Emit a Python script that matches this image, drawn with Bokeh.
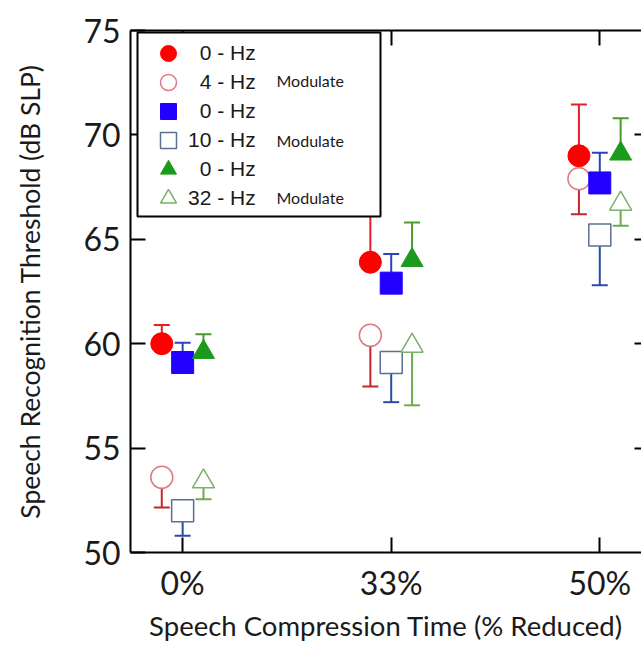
from bokeh.plotting import figure
from bokeh.models import (ColumnDataSource, Range1d, LinearAxis, FixedTicker, Whisker,
                          TeeHead, Legend, LegendItem, Label, BoxAnnotation)
from bokeh.transform import dodge
from bokeh.embed import file_html
from bokeh.resources import INLINE

# ---------------- data ----------------
categories = ["0%", "33%", "50%"]
y_ticks = [50, 55, 60, 65, 70, 75]

red_0hz = [60.0, 63.9, 69.0]
red_0hz_err_up = [0.9, 2.5, 2.45]
red_4hz = [53.6, 60.4, 67.9]
red_4hz_err_down = [1.45, 2.45, 1.7]

blue_0hz = [59.1, 62.9, 67.7]
blue_0hz_err_up = [0.95, 1.4, 1.45]
blue_10hz = [52.0, 59.1, 65.2]
blue_10hz_err_down = [1.2, 1.9, 2.4]

green_0hz = [59.6, 64.0, 69.1]
green_0hz_err_up = [0.85, 1.8, 1.7]
green_32hz = [53.4, 59.9, 66.7]
green_32hz_err_down = [0.85, 2.85, 1.05]

legend_labels = ["\u20070 - Hz", "\u20074 - Hz", "\u20070 - Hz", "10 - Hz", "\u20070 - Hz", "32 - Hz"]
note_text = "Modulate"

# ---------------- figure ----------------
xs = list(range(len(categories)))
p = figure(width=641, height=646, output_backend="svg", toolbar_location=None,
           x_range=Range1d(-0.25, 2.2), y_range=Range1d(50, 75),
           min_border_left=130, min_border_top=30, min_border_right=0, min_border_bottom=94)
p.outline_line_color = None
p.xgrid.visible = False
p.ygrid.visible = False
p.background_fill_color = "white"

TICK_FONT = "Lato"

# bottom axis
xa = p.xaxis[0]
xa.ticker = FixedTicker(ticks=xs)
xa.major_label_overrides = {i: c for i, c in enumerate(categories)}
xa.axis_label = "Speech Compression Time (% Reduced)"
# left axis
ya = p.yaxis[0]
ya.ticker = FixedTicker(ticks=y_ticks)
ya.axis_label = "Speech Recognition Threshold (dB SLP)"

for ax in (xa, ya):
    ax.axis_line_width = 2
    ax.axis_line_color = "black"
    ax.major_tick_line_width = 2
    ax.major_tick_line_color = "black"
    ax.major_tick_in = 15
    ax.major_tick_out = 0
    ax.minor_tick_line_color = None
    ax.major_label_text_font = TICK_FONT
    ax.major_label_text_font_size = "32px"
    ax.major_label_text_color = "#1a1a1a"
    ax.axis_label_text_font = TICK_FONT
    ax.axis_label_text_font_style = "normal"
    ax.axis_label_text_color = "#1a1a1a"
xa.axis_label_text_font_size = "27.5px"
ya.axis_label_text_font_size = "26.5px"
xa.major_label_standoff = 10
xa.axis_label_standoff = 4
ya.major_label_standoff = 10
ya.axis_label_standoff = 34

# top and right axes (ticks only)
top = LinearAxis(ticker=FixedTicker(ticks=xs), major_label_text_font_size="0px",
                 major_label_standoff=0, major_tick_in=15, major_tick_out=0,
                 major_tick_line_width=2, axis_line_width=2, minor_tick_line_color=None)
p.add_layout(top, "above")
right = LinearAxis(ticker=FixedTicker(ticks=y_ticks[1:-1]), major_label_text_font_size="0px",
                   major_label_standoff=0, major_tick_in=7, major_tick_out=0,
                   major_tick_line_width=2, axis_line_color=None, minor_tick_line_color=None)
p.add_layout(right, "right")

# ---------------- series ----------------
series = [
    # values, err, direction, offset, marker, fill, line, errcolor, lw
    (red_0hz, red_0hz_err_up, +1, -0.1, "circle", "#ff0000", "#ff0000", "#e41f26", 1),
    (red_4hz, red_4hz_err_down, -1, -0.1, "circle", "white", "#dd7a80", "#c4262c", 1.5),
    (blue_0hz, blue_0hz_err_up, +1, 0.0, "square", "#2200ff", "#2200ff", "#2d43b8", 1),
    (blue_10hz, blue_10hz_err_down, -1, 0.0, "square", "white", "#5a7090", "#2a4aa8", 1.5),
    (green_0hz, green_0hz_err_up, +1, 0.1, "triangle", "#1c9a1c", "#1c9a1c", "#4c9a2c", 1),
    (green_32hz, green_32hz_err_down, -1, 0.1, "triangle", "white", "#7cb06a", "#6eaa52", 1.5),
]

items = []
for i, (vals, err, d, off, marker, fill, line, ecol, lw) in enumerate(series):
    if d > 0:
        lo = list(vals)
        up = [v + e for v, e in zip(vals, err)]
    else:
        lo = [v - e for v, e in zip(vals, err)]
        up = list(vals)
    src = ColumnDataSource(dict(x=xs, y=vals, lo=lo, up=up))
    head = TeeHead(size=16, line_color=ecol, line_width=2)
    w = Whisker(source=src, base=dodge("x", off), lower="lo", upper="up", dimension="height",
                line_color=ecol, line_width=2,
                upper_head=head if d > 0 else None,
                lower_head=head if d < 0 else None)
    p.add_layout(w)
    r = p.scatter(x=dodge("x", off), y="y", source=src, marker=marker, size=22,
                  fill_color=fill, line_color=line, line_width=lw)
    items.append(LegendItem(label=legend_labels[i], renderers=[r]))

# legend frame
box = BoxAnnotation(left=7, right=250, top=520, bottom=336,
                    left_units="screen", right_units="screen",
                    top_units="screen", bottom_units="screen",
                    fill_color="white", fill_alpha=1.0,
                    line_color="black", line_width=2, line_alpha=1.0, level="annotation")
p.add_layout(box)


def make_legend(its, y):
    return Legend(items=its, location=(18, y), orientation="vertical",
                  padding=0, margin=0, spacing=16, glyph_width=40, glyph_height=42,
                  label_height=42, label_standoff=0,
                  label_text_font="Liberation Sans", label_text_font_size="21px",
                  label_text_color="#1a1a1a",
                  border_line_color=None, background_fill_alpha=0.0, level="annotation")


p.add_layout(make_legend(items[0::2], 362), "center")
p.add_layout(make_legend(items[1::2], 333), "center")

for row_y in (472, 412, 355):
    p.add_layout(Label(x=146, y=row_y, x_units="screen", y_units="screen", text=note_text,
                       text_font=TICK_FONT, text_font_size="16px", text_color="#1a1a1a",
                       text_baseline="middle", level="overlay"))

open("out.html", "w").write(file_html(p, INLINE))
